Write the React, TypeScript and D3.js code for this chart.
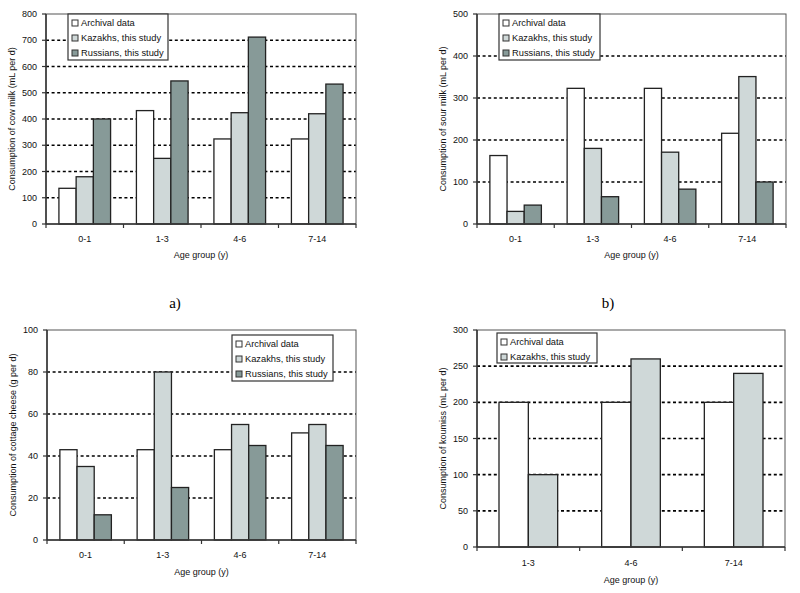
import React from "react";
import * as d3 from "d3";

// categories
const ageGroups = ["0-1", "1-3", "4-6", "7-14"];
const koumissGroups = ["1-3", "4-6", "7-14"];
const seriesNames = ["Archival data", "Kazakhs, this study", "Russians, this study"];

// a) cow milk (mL per d)
const cowArchival = [136, 432, 324, 324];
const cowKazakhs = [180, 250, 424, 420];
const cowRussians = [400, 545, 712, 533];

// b) sour milk (mL per d)
const sourArchival = [163, 323, 323, 216];
const sourKazakhs = [30, 180, 171, 351];
const sourRussians = [45, 65, 83, 100];

// cottage cheese (g per d)
const cheeseArchival = [43, 43, 43, 51];
const cheeseKazakhs = [35, 80, 55, 55];
const cheeseRussians = [12, 25, 45, 45];

// koumiss (mL per d)
const koumissArchival = [200, 200, 200];
const koumissKazakhs = [100, 260, 240];

const fills = ["#ffffff", "#cfd8d8", "#879a98"];
const font = "'Liberation Sans', Arial, sans-serif";

type PanelProps = {
  box: { l: number; t: number; r: number; b: number };
  yMax: number;
  yStep: number;
  cats: string[];
  series: number[][];
  yTitle: string;
  yTitleX: number;
  catLabelY: number;
  xTitleY: number;
  legend: { x: number; y: number; w: number; h: number; rowH: number };
};

function Panel(p: PanelProps) {
  const { box } = p;
  const y = d3.scaleLinear().domain([0, p.yMax]).range([box.b, box.t]);
  const x = d3.scaleBand().domain(p.cats).range([box.l, box.r]);
  const names = seriesNames.slice(0, p.series.length);
  // excel style gap: 1.5 bar widths shared around each cluster
  const inner = d3.scaleBand().domain(names).range([0, x.bandwidth()]).paddingInner(0).paddingOuter(0.75);
  const ticks = d3.range(0, p.yMax + 0.001, p.yStep);
  const edges = p.cats.map((c) => x(c)!).concat([box.r]);

  return (
    <g fontFamily={font} fill="#111">
      {ticks.filter((t) => t > 0 && t < p.yMax).map((t) => (
        <line key={"g" + t} x1={box.l} x2={box.r} y1={y(t)} y2={y(t)} stroke="#000" strokeWidth={1.6} strokeDasharray="3,2.6" />
      ))}
      {p.series.map((vals, si) =>
        vals.map((v, ci) => (
          <rect
            key={si + "-" + ci}
            x={x(p.cats[ci])! + inner(names[si])!}
            y={y(v)}
            width={inner.bandwidth()}
            height={box.b - y(v)}
            fill={fills[si]}
            stroke="#222"
            strokeWidth={1.3}
          />
        ))
      )}
      <rect x={box.l} y={box.t} width={box.r - box.l} height={box.b - box.t} fill="none" stroke="#555" strokeWidth={1} />
      <line x1={box.l} x2={box.l} y1={box.t} y2={box.b} stroke="#333" strokeWidth={1.5} />
      <line x1={box.l} x2={box.r} y1={box.b} y2={box.b} stroke="#333" strokeWidth={1.5} />
      {ticks.map((t) => (
        <g key={"y" + t}>
          <line x1={box.l - 4} x2={box.l} y1={y(t)} y2={y(t)} stroke="#333" strokeWidth={1.2} />
          <text x={box.l - 9} y={y(t)} dy="0.35em" textAnchor="end" fontSize={9}>
            {t}
          </text>
        </g>
      ))}
      {edges.map((e, i) => (
        <line key={"x" + i} x1={e} x2={e} y1={box.b} y2={box.b + 4} stroke="#333" strokeWidth={1.2} />
      ))}
      {p.cats.map((c) => (
        <text key={c} x={x(c)! + x.bandwidth() / 2} y={p.catLabelY} dy="0.35em" textAnchor="middle" fontSize={9}>
          {c}
        </text>
      ))}
      <text x={(box.l + box.r) / 2} y={p.xTitleY} dy="0.35em" textAnchor="middle" fontSize={9}>
        Age group (y)
      </text>
      <text
        transform={`translate(${p.yTitleX},${(box.t + box.b) / 2}) rotate(-90)`}
        dy="0.35em"
        textAnchor="middle"
        fontSize={9}
      >
        {p.yTitle}
      </text>
      <rect x={p.legend.x} y={p.legend.y} width={p.legend.w} height={p.legend.h} fill="#fff" stroke="#333" strokeWidth={1.2} />
      {names.map((n, i) => {
        const cy = p.legend.y + 9 + i * p.legend.rowH;
        return (
          <g key={n}>
            <rect x={p.legend.x + 4} y={cy - 3} width={6} height={6} fill={fills[i]} stroke="#333" strokeWidth={1} />
            <text x={p.legend.x + 13} y={cy} dy="0.35em" fontSize={9.3}>
              {n}
            </text>
          </g>
        );
      })}
    </g>
  );
}

export default function App() {
  return (
    <svg width={800} height={593} style={{ position: "absolute", left: 0, top: 0, background: "#fff" }}>
      <Panel
        box={{ l: 46, t: 14, r: 356, b: 224 }}
        yMax={800}
        yStep={100}
        cats={ageGroups}
        series={[cowArchival, cowKazakhs, cowRussians]}
        yTitle="Consumption of cow milk (mL per d)"
        yTitleX={12}
        catLabelY={239}
        xTitleY={255}
        legend={{ x: 68, y: 14, w: 100, h: 46, rowH: 15 }}
      />
      <Panel
        box={{ l: 477, t: 14, r: 786, b: 224 }}
        yMax={500}
        yStep={100}
        cats={ageGroups}
        series={[sourArchival, sourKazakhs, sourRussians]}
        yTitle="Consumption of sour milk (mL per d)"
        yTitleX={443}
        catLabelY={239}
        xTitleY={255}
        legend={{ x: 499, y: 14, w: 101, h: 46, rowH: 15 }}
      />
      <Panel
        box={{ l: 47, t: 330, r: 356, b: 540 }}
        yMax={100}
        yStep={20}
        cats={ageGroups}
        series={[cheeseArchival, cheeseKazakhs, cheeseRussians]}
        yTitle="Consumption of cottage cheese (g per d)"
        yTitleX={13}
        catLabelY={555}
        xTitleY={572}
        legend={{ x: 232, y: 335, w: 101, h: 46, rowH: 15 }}
      />
      <Panel
        box={{ l: 477, t: 330, r: 785, b: 547 }}
        yMax={300}
        yStep={50}
        cats={koumissGroups}
        series={[koumissArchival, koumissKazakhs]}
        yTitle="Consumption of koumiss (mL per d)"
        yTitleX={443}
        catLabelY={563}
        xTitleY={580}
        legend={{ x: 497, y: 333, w: 100, h: 30, rowH: 15 }}
      />
      <text x={175} y={303} dy="0.35em" textAnchor="middle" fontFamily="'Liberation Serif', serif" fontSize={15}>
        a)
      </text>
      <text x={608} y={303} dy="0.35em" textAnchor="middle" fontFamily="'Liberation Serif', serif" fontSize={15}>
        b)
      </text>
    </svg>
  );
}
